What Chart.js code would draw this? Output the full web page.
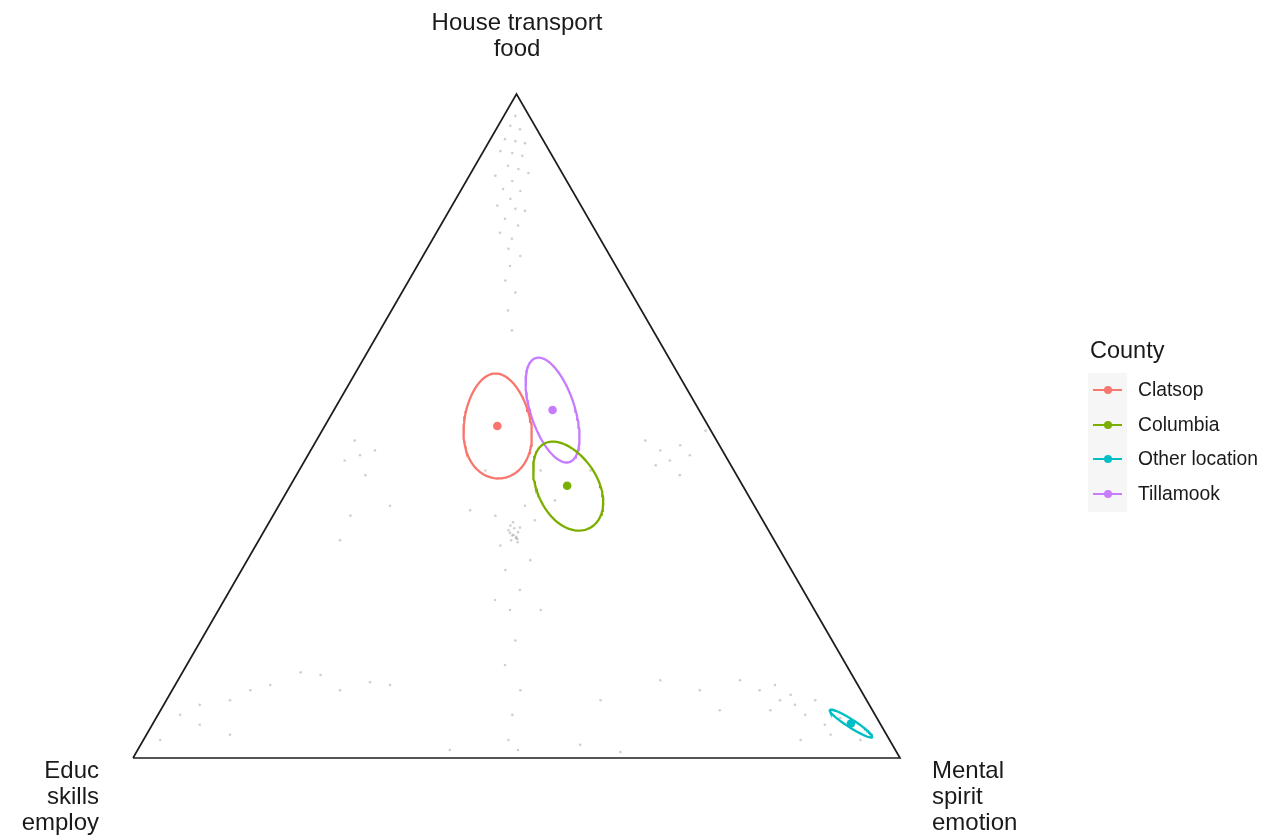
<!DOCTYPE html>
<html>
<head>
<meta charset="utf-8">
<title>County needs — ternary plot</title>
<script src="https://cdn.jsdelivr.net/npm/chart.js@4.4.1/dist/chart.umd.min.js"></script>
<style>
  html, body { margin: 0; padding: 0; background: #ffffff; }
  #wrap { position: relative; width: 1285px; height: 838px; font-family: "Liberation Sans", Arial, Helvetica, sans-serif; color: #1a1a1a; overflow: hidden; }
  #c { position: absolute; left: 0; top: 0; }
  .vlabel { position: absolute; font-size: 24px; line-height: 26px; white-space: nowrap; }
  #legend { position: absolute; left: 1088px; top: 335px; }
  #legend .title { font-size: 23.5px; line-height: 30px; margin-left: 2px; margin-bottom: 8px; }
  #legend .row { position: relative; height: 34.7px; }
  #legend .key { position: absolute; left: 0; top: 0; width: 39px; height: 34.7px; background: #f6f6f6; }
  #legend .key .ln { position: absolute; left: 5px; top: 16px; width: 29px; height: 2px; }
  #legend .key .dot { position: absolute; left: 15.5px; top: 13px; width: 8px; height: 8px; border-radius: 50%; }
  #legend .txt { position: absolute; left: 50px; top: 5px; font-size: 19.3px; line-height: 24px; white-space: nowrap; }
</style>
</head>
<body>
<div id="wrap">
  <canvas id="c" width="1285" height="838"></canvas>
  <div class="vlabel" style="left:317px; width:400px; top:9px; text-align:center;">House transport<br>food</div>
  <div class="vlabel" style="right:1186px; top:757px; text-align:right;">Educ<br>skills<br>employ</div>
  <div class="vlabel" style="left:932px; top:757px; text-align:left;">Mental<br>spirit<br>emotion</div>
  <div id="legend"><div class="title">County</div></div>
</div>
<script>
// Groups and their colours
const counties = ['Clatsop', 'Columbia', 'Other location', 'Tillamook'];
const countyColors = ['#F8766D', '#7CAE00', '#00BFC4', '#C77CFF'];

// Mean composition per county (%): house/transport/food, educ/skills/employ, mental/spirit/emotion
const meanHouse  = [50.0, 41.0,  5.2, 52.4];
const meanEduc   = [27.5, 22.9,  3.8, 19.1];
const meanMental = [22.5, 36.1, 91.0, 28.5];

// Confidence region around each mean: semi-axes (share of a triangle side),
// orientation of the long axis (degrees) and egg-shape asymmetry
const ellMajor = [0.0685, 0.0625, 0.0326, 0.0713];
const ellMinor = [0.0440, 0.0394, 0.0052, 0.0288];
const ellAngle = [92.7, 118.5, -32.7, 108.0];
const ellSkew  = [-0.15, -0.08, 0.0, 0.0];

// Individual responses (%): house and mental shares; educ is the remainder
const respHouse = [
  96.7, 95.2, 94.7, 93.2, 92.9, 92.6, 91.4, 91.1, 90.7, 89.2, 88.7, 87.7, 88.1, 86.9, 85.7, 85.4,
  84.2, 83.2, 82.7, 82.4, 81.2, 80.2, 79.1, 78.2, 76.7, 75.6, 74.1, 71.9, 70.1, 67.4, 64.4,
  35.0, 34.6, 34.0, 33.5, 33.1, 34.3, 34.7, 35.5, 32.5, 32.8, 33.3, 33.6, 33.0, 33.9,
  37.3, 36.5, 38.0, 35.8, 32.0, 29.8, 28.3, 25.3, 22.3, 17.7, 14.0, 10.2, 6.5, 2.7, 1.2, 23.8, 22.3,
  47.8, 45.6, 44.8, 46.3, 42.6, 36.5, 32.8, 38.0,
  6.5, 8.0, 8.7, 10.2, 11.0, 12.9, 12.5, 10.2, 11.4, 11.0, 5.0, 2.7, 3.5,
  47.8, 46.3, 47.1, 44.1, 44.8, 45.6, 42.6, 49.3,
  10.2, 11.0, 8.7, 9.5, 8.0, 7.2, 6.5, 8.7, 5.0, 3.5, 2.7, 11.7, 10.2, 7.2, 11.7, 8.7, 6.0, 2.7,
  2.0, 0.9, 1.2, 43.3, 43.3, 38.8, 43.3
];
const respMental = [
  1.5, 1.6, 3.1, 1.9, 3.4, 4.8, 2.2, 3.9, 5.4, 4.3, 5.9, 3.4, 7.5, 6.0, 5.4, 7.8,
  7.1, 5.9, 8.5, 9.9, 7.9, 10.1, 8.3, 10.3, 10.6, 12.7, 12.1, 12.6, 14.8, 15.2, 17.2,
  31.7, 32.4, 33.2, 32.7, 33.4, 31.8, 33.1, 31.8, 33.9, 32.9, 33.3, 32.8, 33.6, 32.2,
  25.3, 29.0, 32.1, 34.5, 31.9, 36.9, 34.4, 37.8, 38.0, 41.0, 41.5, 45.4, 46.2, 47.6, 49.6, 35.3, 42.0,
  5.0, 6.8, 5.2, 8.4, 9.0, 10.1, 10.6, 14.5,
  2.9, 4.7, 8.3, 10.2, 12.4, 15.4, 18.2, 21.9, 25.2, 28.0, 6.2, 2.2, 10.9,
  42.9, 45.6, 47.8, 46.1, 47.6, 49.8, 50.0, 50.0,
  76.6, 78.2, 80.0, 81.0, 82.3, 79.5, 84.4, 84.6, 87.7, 89.2, 85.7, 73.3, 68.8, 72.9, 62.9, 56.6, 89.2, 93.5,
  57.3, 63.1, 40.7, 31.5, 38.0, 35.6, 24.3
];

// Ternary -> plane: educ at (0,0), mental at (1,0), house at (1/2, sqrt(3)/2)
const H = Math.sqrt(3) / 2;
function toPlane(house, mental) {
  const t = house / 100, r = mental / 100;
  return { x: r + t / 2, y: t * H };
}

// Outline of a confidence region in the plane
function regionOutline(i) {
  const c = toPlane(meanHouse[i], meanMental[i]);
  const phi = ellAngle[i] * Math.PI / 180;
  const a = ellMajor[i], b = ellMinor[i], e = ellSkew[i];
  const pts = [];
  const n = 120;
  for (let k = 0; k <= n; k++) {
    const t = 2 * Math.PI * k / n;
    const u = a * Math.cos(t);
    const v = b * Math.sin(t) * (1 + e * Math.cos(t));
    pts.push({
      x: c.x + u * Math.cos(phi) - v * Math.sin(phi),
      y: c.y + u * Math.sin(phi) + v * Math.cos(phi)
    });
  }
  return pts;
}

const datasets = [];

// raw responses, faint grey
datasets.push({
  label: 'responses',
  data: respHouse.map((h, i) => toPlane(h, respMental[i])),
  pointRadius: 1.3,
  pointBackgroundColor: 'rgba(160,160,160,0.5)',
  pointBorderWidth: 0,
  showLine: false,
  clip: false,
  order: 5
});

// triangle frame
datasets.push({
  label: 'frame',
  data: [toPlane(0, 0), toPlane(0, 100), toPlane(100, 0), toPlane(0, 0)],
  showLine: true,
  borderColor: '#1e1e1e',
  borderWidth: 1.7,
  pointRadius: 0,
  tension: 0,
  clip: false,
  order: 4
});

// confidence regions
counties.forEach((name, i) => {
  datasets.push({
    label: name + ' region',
    data: regionOutline(i),
    showLine: true,
    borderColor: countyColors[i],
    borderWidth: 2.3,
    pointRadius: 0,
    tension: 0,
    clip: false,
    order: 2
  });
});

// county means
counties.forEach((name, i) => {
  datasets.push({
    label: name,
    data: [toPlane(meanHouse[i], meanMental[i])],
    showLine: false,
    pointRadius: 4.3,
    pointBackgroundColor: countyColors[i],
    pointBorderWidth: 0,
    clip: false,
    order: 1
  });
});

new Chart(document.getElementById('c'), {
  type: 'scatter',
  data: { datasets },
  options: {
    responsive: false,
    animation: false,
    events: [],
    layout: { padding: { left: 133, right: 385, top: 94, bottom: 80 } },
    scales: {
      x: { type: 'linear', min: 0, max: 1, display: false },
      y: { type: 'linear', min: 0, max: H, display: false }
    },
    plugins: {
      legend: { display: false },
      tooltip: { enabled: false }
    }
  }
});

// legend
const legend = document.getElementById('legend');
counties.forEach((name, i) => {
  const row = document.createElement('div');
  row.className = 'row';
  row.innerHTML =
    '<div class="key"><div class="ln" style="background:' + countyColors[i] + '"></div>' +
    '<div class="dot" style="background:' + countyColors[i] + '"></div></div>' +
    '<div class="txt">' + name + '</div>';
  legend.appendChild(row);
});
</script>
</body>
</html>
